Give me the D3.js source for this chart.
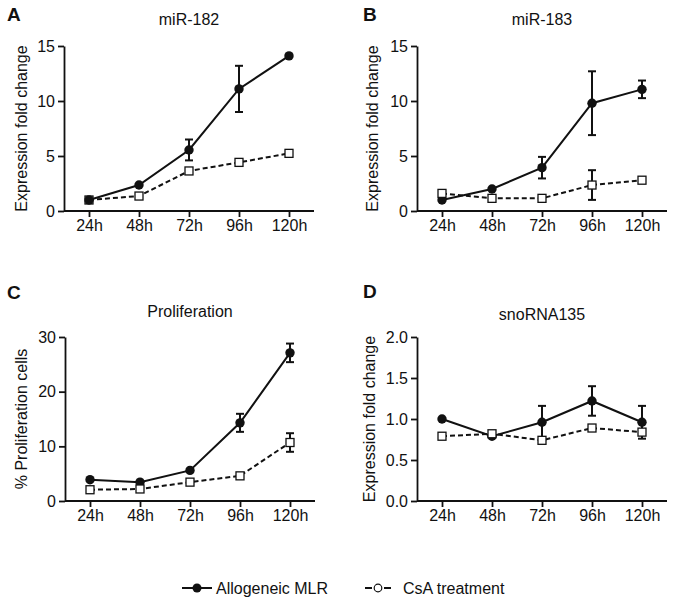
<!DOCTYPE html>
<html>
<head>
<meta charset="utf-8">
<script src="https://cdn.jsdelivr.net/npm/d3@7"></script>
<style>
  html, body { margin: 0; padding: 0; background: #fff; }
  svg { display: block; font-family: "Liberation Sans", Arial, Helvetica, sans-serif; }
</style>
</head>
<body>
<svg id="chart" width="673" height="604"></svg>
<script>
// ---------- data ----------
const timepoints = ["24h", "48h", "72h", "96h", "120h"];

const mir182Allo    = [1.0, 2.36, 5.55, 11.1, 14.1];
const mir182AlloErr = [0, 0, 0.95, 2.1, 0];
const mir182CsA     = [1.0, 1.36, 3.64, 4.42, 5.24];
const mir182CsAErr  = [0, 0, 0, 0, 0];

const mir183Allo    = [1.0, 2.0, 3.94, 9.8, 11.06];
const mir183AlloErr = [0, 0, 0.98, 2.9, 0.8];
const mir183CsA     = [1.6, 1.15, 1.15, 2.36, 2.8];
const mir183CsAErr  = [0, 0, 0, 1.35, 0];

const prolifAllo    = [3.9, 3.45, 5.6, 14.3, 27.1];
const prolifAlloErr = [0, 0, 0, 1.65, 1.7];
const prolifCsA     = [2.06, 2.2, 3.45, 4.6, 10.7];
const prolifCsAErr  = [0, 0, 0, 0, 1.7];

const snoAllo       = [1.0, 0.79, 0.96, 1.22, 0.96];
const snoAlloErr    = [0, 0, 0.2, 0.18, 0.2];
const snoCsA        = [0.79, 0.82, 0.74, 0.89, 0.84];
const snoCsAErr     = [0, 0, 0, 0, 0];

const ticksA = [0, 5, 10, 15];
const ticksB = [0, 5, 10, 15];
const ticksC = [0, 10, 20, 30];
const ticksD = [0, 0.5, 1.0, 1.5, 2.0];

const seriesNames = ["Allogeneic MLR", "CsA treatment"];

// ---------- layout ----------
const panels = [
  { letter: "A", title: "miR-182", ylabel: "Expression fold change",
    allo: mir182Allo, alloErr: mir182AlloErr, csa: mir182CsA, csaErr: mir182CsAErr,
    ticks: ticksA, fmt: d3.format("d"), csaOnTop: false,
    left: 64, top: 46, bottom: 211, letterX: 7, letterY: 21, titleY: 25, ylabX: 27 },
  { letter: "B", title: "miR-183", ylabel: "Expression fold change",
    allo: mir183Allo, alloErr: mir183AlloErr, csa: mir183CsA, csaErr: mir183CsAErr,
    ticks: ticksB, fmt: d3.format("d"), csaOnTop: true,
    left: 417, top: 46, bottom: 211, letterX: 363, letterY: 21, titleY: 25, ylabX: 378 },
  { letter: "C", title: "Proliferation", ylabel: "% Proliferation cells",
    allo: prolifAllo, alloErr: prolifAlloErr, csa: prolifCsA, csaErr: prolifCsAErr,
    ticks: ticksC, fmt: d3.format("d"), csaOnTop: true,
    left: 65, top: 337, bottom: 501, letterX: 7, letterY: 299, titleY: 317, ylabX: 27 },
  { letter: "D", title: "snoRNA135", ylabel: "Expression fold change",
    allo: snoAllo, alloErr: snoAlloErr, csa: snoCsA, csaErr: snoCsAErr,
    ticks: ticksD, fmt: d3.format(".1f"), csaOnTop: true,
    left: 417, top: 337, bottom: 501, letterX: 363, letterY: 298, titleY: 320, ylabX: 375 }
];
const plotW = 250;
const ink = "#111";

const svg = d3.select("#chart");
svg.append("rect").attr("width", 673).attr("height", 604).attr("fill", "#fff");

function drawSeries(g, x, y, vals, errs, filled) {
  const pts = vals.map((v, i) => ({ t: timepoints[i], v: v, e: errs[i] }));
  const line = d3.line().x(d => x(d.t)).y(d => y(d.v));
  g.append("path").datum(pts)
    .attr("d", line).attr("fill", "none").attr("stroke", ink)
    .attr("stroke-width", 2)
    .attr("stroke-dasharray", filled ? null : "5,3");
  const eb = g.append("g");
  pts.filter(d => d.e > 0).forEach(d => {
    const cx = x(d.t), y1 = y(d.v + d.e), y0 = y(d.v - d.e);
    eb.append("line").attr("x1", cx).attr("x2", cx).attr("y1", y1).attr("y2", y0)
      .attr("stroke", ink).attr("stroke-width", 2);
    [y1, y0].forEach(yy => eb.append("line")
      .attr("x1", cx - 4).attr("x2", cx + 4).attr("y1", yy).attr("y2", yy)
      .attr("stroke", ink).attr("stroke-width", 2));
  });
  if (filled) {
    g.selectAll(null).data(pts).enter().append("circle")
      .attr("cx", d => x(d.t)).attr("cy", d => y(d.v)).attr("r", 4.7)
      .attr("fill", ink);
  } else {
    g.selectAll(null).data(pts).enter().append("rect")
      .attr("x", d => x(d.t) - 4).attr("y", d => y(d.v) - 4)
      .attr("width", 8).attr("height", 8)
      .attr("fill", "#fff").attr("stroke", ink).attr("stroke-width", 1.3);
  }
}

panels.forEach(p => {
  const g = svg.append("g");
  const x = d3.scalePoint().domain(timepoints).range([p.left, p.left + plotW]).padding(0.5);
  const yMax = p.ticks[p.ticks.length - 1];
  const y = d3.scaleLinear().domain([0, yMax]).range([p.bottom, p.top]);

  // axes
  const xAxis = d3.axisBottom(x).tickSizeInner(6).tickSizeOuter(0).tickPadding(3);
  const yAxis = d3.axisLeft(y).tickValues(p.ticks).tickFormat(p.fmt)
    .tickSizeInner(6).tickSizeOuter(0).tickPadding(3);
  const gx = g.append("g").attr("transform", `translate(0,${p.bottom})`).call(xAxis);
  const gy = g.append("g").attr("transform", `translate(${p.left},0)`).call(yAxis);
  [gx, gy].forEach(a => {
    a.selectAll("path, line").attr("stroke", ink).attr("stroke-width", 1.8);
    a.selectAll("text").attr("fill", ink).attr("font-size", 16)
      .attr("font-family", "Liberation Sans, Arial, sans-serif");
  });
  // make x domain start exactly at y-axis
  gx.select(".domain").attr("d", `M${p.left},0H${p.left + plotW}`);

  // series
  const gs = g.append("g");
  if (p.csaOnTop) {
    drawSeries(gs, x, y, p.allo, p.alloErr, true);
    drawSeries(gs, x, y, p.csa, p.csaErr, false);
  } else {
    drawSeries(gs, x, y, p.csa, p.csaErr, false);
    drawSeries(gs, x, y, p.allo, p.alloErr, true);
  }

  // title
  g.append("text").attr("x", p.left + plotW / 2).attr("y", p.titleY)
    .attr("text-anchor", "middle").attr("font-size", 16).attr("fill", ink)
    .text(p.title);
  // panel letter
  g.append("text").attr("x", p.letterX).attr("y", p.letterY)
    .attr("font-size", 19).attr("font-weight", "bold").attr("fill", ink)
    .text(p.letter);
  // y label
  g.append("text")
    .attr("transform", `translate(${p.ylabX},${(p.top + p.bottom) / 2}) rotate(-90)`)
    .attr("text-anchor", "middle").attr("font-size", 16).attr("fill", ink)
    .text(p.ylabel);
});

// legend
const lg = svg.append("g");
const ly = 588;
lg.append("line").attr("x1", 182).attr("x2", 212).attr("y1", ly).attr("y2", ly)
  .attr("stroke", ink).attr("stroke-width", 2);
lg.append("circle").attr("cx", 197).attr("cy", ly).attr("r", 4.5).attr("fill", ink);
lg.append("text").attr("x", 216).attr("y", ly + 6).attr("font-size", 16).attr("fill", ink)
  .text(seriesNames[0]);
lg.append("line").attr("x1", 365).attr("x2", 391).attr("y1", ly).attr("y2", ly)
  .attr("stroke", ink).attr("stroke-width", 2).attr("stroke-dasharray", "7,12,7");
lg.append("circle").attr("cx", 378).attr("cy", ly).attr("r", 3.8)
  .attr("fill", "#fff").attr("stroke", ink).attr("stroke-width", 1.2);
lg.append("text").attr("x", 403).attr("y", ly + 6).attr("font-size", 16).attr("fill", ink)
  .text(seriesNames[1]);
</script>
</body>
</html>
